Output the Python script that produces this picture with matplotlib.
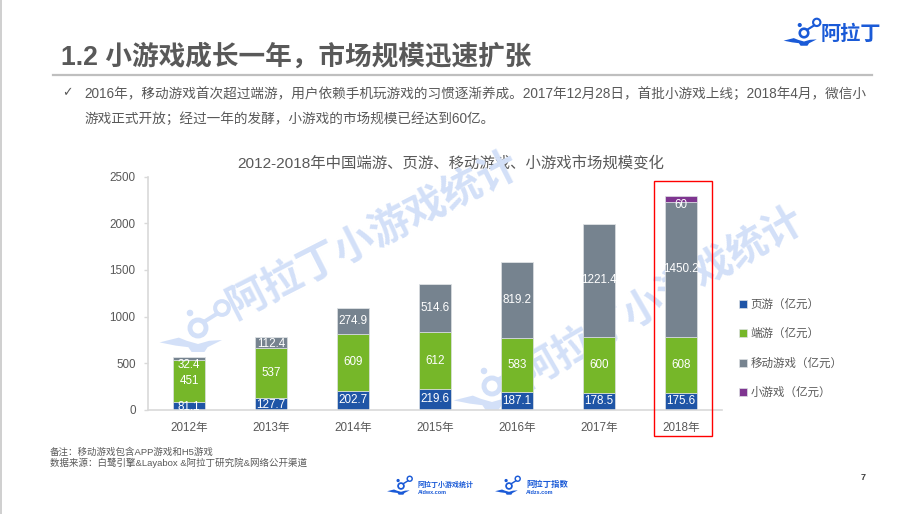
import matplotlib
matplotlib.use('Agg')
import matplotlib.pyplot as plt
from matplotlib.patches import Circle, Polygon, Rectangle

plt.rcParams['font.family'] = ['Liberation Sans', 'Noto Sans CJK SC', 'DejaVu Sans']

years = ['2012年', '2013年', '2014年', '2015年', '2016年', '2017年', '2018年']
ye_you = [81.1, 127.7, 202.7, 219.6, 187.1, 178.5, 175.6]
duan_you = [451, 537, 609, 612, 583, 600, 608]
mobile = [32.4, 112.4, 274.9, 514.6, 819.2, 1221.4, 1450.2]
mini_game = [0, 0, 0, 0, 0, 0, 60]

series_names = ['页游（亿元）', '端游（亿元）', '移动游戏（亿元）', '小游戏（亿元）']
y_ticks = [0, 500, 1000, 1500, 2000, 2500]

BLUE = '#1F55A6'
GREEN = '#76B729'
GRAY = '#76838F'
PURPLE = '#7F3590'
TEXT = '#595959'
LOGO = '#1A5AD7'
WATERMARK = '#D3E0F8'
W, H = 924, 514


def draw_logo(ax, x, y, s, color, zorder=1):
    # x, y = centro del anillo en pixeles, s = escala
    ax.add_patch(Circle((x, y), 5 * s, fill=False, ec=color, lw=2.2 * s, zorder=zorder))
    ax.add_patch(Circle((x - 5 * s, y - 9.4 * s), 1.6 * s, color=color, zorder=zorder))
    wing = [(-24, 9), (-12, 6), (-7, 8), (0, 10), (7, 8), (15, 7.5), (6, 12), (4, 15), (-4, 15), (-6, 12), (-14, 11)]
    ax.add_patch(Polygon([(x + a * s, y + b * s) for a, b in wing], color=color, lw=0, zorder=zorder))
    ax.add_patch(Circle((x + 15 * s, y - 12.5 * s), 4.3 * s, fill=False, ec=color, lw=1.8 * s, zorder=zorder))
    ax.plot([x + 4 * s, x + 12 * s], [y - 4 * s, y - 9 * s], color=color, lw=1.8 * s, zorder=zorder)


def main():
    fig = plt.figure(figsize=(W / 100, H / 100), dpi=100)

    # capa de pagina en pixeles: titulo, textos, logos y marcas de agua
    page = fig.add_axes([0, 0, 1, 1])
    page.set_xlim(0, W)
    page.set_ylim(H, 0)
    page.axis('off')

    page.add_patch(Rectangle((0, 0), 1.5, H, color='#D0D0D0', lw=0))
    page.text(61, 57, '1.2 小游戏成长一年，市场规模迅速扩张', fontsize=19.2, fontweight='bold',
              color=TEXT, va='center')
    page.plot([53, 872], [75, 75], color='#BFBFBF', lw=1.6)
    page.text(62, 93, '✓', fontsize=9, color=TEXT, va='center', family='DejaVu Sans')
    page.text(84, 94, '2016年，移动游戏首次超过端游，用户依赖手机玩游戏的习惯逐渐养成。2017年12月28日，'
              '首批小游戏上线；2018年4月，微信小', fontsize=9.82, color=TEXT, va='center')
    page.text(84, 119, '游戏正式开放；经过一年的发酵，小游戏的市场规模已经达到60亿。', fontsize=9.82,
              color=TEXT, va='center')

    page.text(451, 163, '2012-2018年中国端游、页游、移动游戏、小游戏市场规模变化', fontsize=11.1,
              color=TEXT, ha='center', va='center')

    page.text(373, 235, '阿拉丁小游戏统计', fontsize=29, fontweight='bold', color=WATERMARK, rotation=27,
              rotation_mode='anchor', ha='center', va='center')
    page.text(661, 297, '阿拉丁小游戏统计', fontsize=29, fontweight='bold', color=WATERMARK, rotation=30,
              rotation_mode='anchor', ha='center', va='center')
    draw_logo(page, 198, 328, 1.6, WATERMARK)
    draw_logo(page, 492, 386, 1.6, WATERMARK)

    draw_logo(page, 804, 33, 0.85, LOGO)
    page.text(851, 34, '阿拉丁', fontsize=14.5, fontweight='bold', color=LOGO, ha='center', va='center')

    page.text(50, 452, '备注：移动游戏包含APP游戏和H5游戏', fontsize=6.8, color=TEXT, va='center')
    page.text(50, 463, '数据来源：白鹭引擎&Layabox &阿拉丁研究院&网络公开渠道', fontsize=6.8, color=TEXT, va='center')
    page.text(863, 478, '7', fontsize=6.5, fontweight='bold', color='#404040', ha='center', va='center')

    draw_logo(page, 401, 486, 0.58, LOGO)
    page.text(418, 485, '阿拉丁小游戏统计', fontsize=5, fontweight='bold', color=LOGO, va='center')
    page.text(418, 492, 'Aldwx.com', fontsize=4, fontweight='bold', color=LOGO, va='center')
    draw_logo(page, 509, 486, 0.58, LOGO)
    page.text(526, 485, '阿拉丁指数', fontsize=6, fontweight='bold', color=LOGO, va='center')
    page.text(526, 492, 'Aldzs.com', fontsize=4, fontweight='bold', color=LOGO, va='center')

    # grafico de barras apiladas
    ax = fig.add_axes([148 / W, 1 - 409.5 / H, 574 / W, 232.5 / H])
    ax.patch.set_alpha(0)
    ax.set_xlim(-0.5, 6.5)
    ax.set_ylim(0, 2500)

    x = list(range(len(years)))
    bottom = [0.0] * len(years)
    stacks = [(ye_you, BLUE), (duan_you, GREEN), (mobile, GRAY), (mini_game, PURPLE)]
    handles = []
    for (values, color), name in zip(stacks, series_names):
        bars = ax.bar(x, values, 0.4, bottom=bottom, color=color, edgecolor='#DDE1E4', linewidth=0.5, label=name)
        handles.append(bars)
        for i, v in enumerate(values):
            if v == 0:
                continue
            y = bottom[i] + v / 2
            # ajustes a mano de las etiquetas que no caben en el segmento
            if values is ye_you and v < 150:
                y -= 14
            if values is mobile and i == 0:
                y -= 72
            if values is mobile and i == 1:
                y -= 16
            if values is mini_game:
                y -= 65
            ax.text(i, y, f'{v:g}', color='white', fontsize=8.4, ha='center', va='center',
                    clip_on=True, zorder=5)
        bottom = [b + v for b, v in zip(bottom, values)]

    ax.set_xticks(x)
    ax.set_xticklabels(years, fontsize=8.4, color=TEXT)
    ax.set_yticks(y_ticks)
    ax.set_yticklabels([str(t) for t in y_ticks], fontsize=8.4, color=TEXT)
    ax.tick_params(axis='x', length=0, pad=9)
    ax.tick_params(axis='y', length=3, width=1, color='#D9D9D9', pad=6)
    for side in ['top', 'right']:
        ax.spines[side].set_visible(False)
    for side in ['left', 'bottom']:
        ax.spines[side].set_color('#D9D9D9')
        ax.spines[side].set_linewidth(1.2)

    legend = ax.legend(handles=handles, loc='center left', frameon=False, fontsize=8.3,
                       bbox_to_anchor=(739 / W, 1 - 349 / H), bbox_transform=fig.transFigure,
                       labelspacing=1.52, handlelength=0.7, handleheight=0.7, handletextpad=0.3,
                       borderpad=0, borderaxespad=0)
    for t in legend.get_texts():
        t.set_color(TEXT)

    # recuadro rojo de 2018
    page_front = fig.add_axes([0, 0, 1, 1])
    page_front.set_xlim(0, W)
    page_front.set_ylim(H, 0)
    page_front.axis('off')
    page_front.add_patch(Rectangle((654, 181), 58, 255, fill=False, ec='#FF0000', lw=1))

    fig.savefig('out.png', dpi=100)
    plt.close(fig)


if __name__ == '__main__':
    main()
